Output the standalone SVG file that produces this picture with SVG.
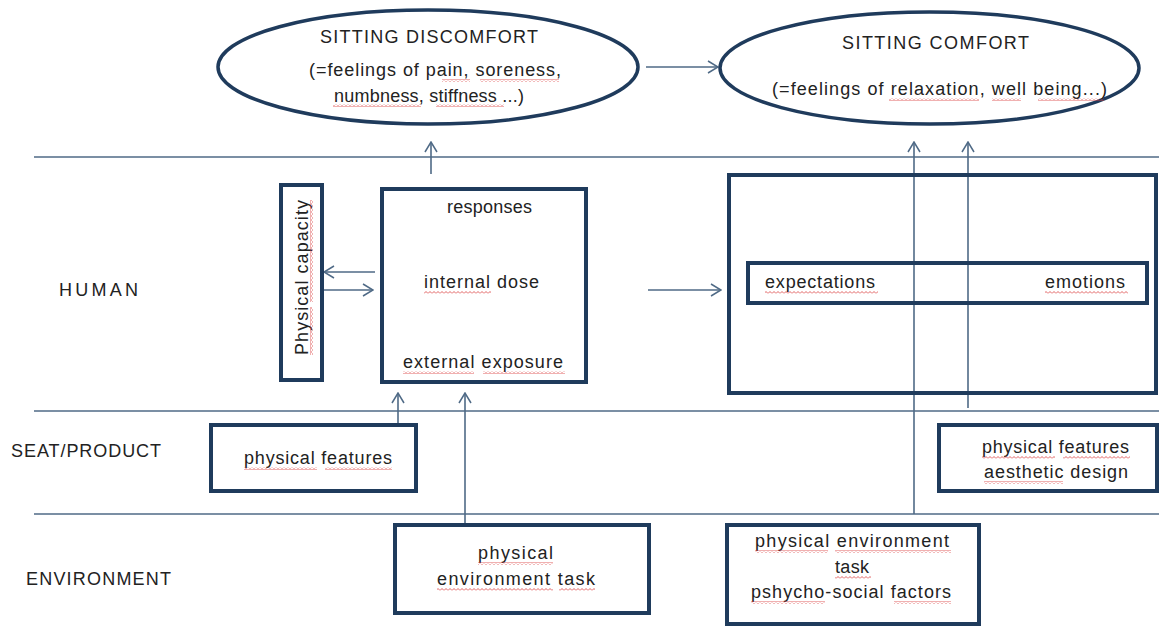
<svg xmlns="http://www.w3.org/2000/svg" width="1159" height="626" viewBox="0 0 1159 626">
<style>
  .t{font-family:"Liberation Sans",Arial,sans-serif;font-size:18px;fill:#222;}
  .box{fill:none;stroke:#1f3b5c;stroke-width:4;}
  .ell{fill:none;stroke:#1f3b5c;stroke-width:3.5;}
  .ln{fill:none;stroke:#4f6a86;stroke-width:1.6;}
  .ar{fill:none;stroke:#4f6a86;stroke-width:1.6;marker-end:url(#arr);}
  .sq{fill:url(#sqh);}
  .sqv{fill:url(#sqv);}
</style>
<defs>
  <marker id="arr" viewBox="0 0 12 14" refX="11" refY="7" markerWidth="12" markerHeight="14" orient="auto" markerUnits="userSpaceOnUse">
    <path d="M1,1 L11,7 L1,13" fill="none" stroke="#4f6a86" stroke-width="1.5"/>
  </marker>
  <pattern id="sqh" width="4" height="3" patternUnits="userSpaceOnUse">
    <path d="M0,2.5 L2,0.5 L4,2.5" fill="none" stroke="#d93a3a" stroke-width="0.8"/>
  </pattern>
  <pattern id="sqv" width="3" height="4" patternUnits="userSpaceOnUse">
    <path d="M2.5,0 L0.5,2 L2.5,4" fill="none" stroke="#d93a3a" stroke-width="0.8"/>
  </pattern>
</defs>
<rect width="1159" height="626" fill="#fff"/>

<g id="connectors">
  <line class="ln" x1="34" y1="157" x2="1159" y2="157"/>
  <line class="ln" x1="34" y1="411" x2="1159" y2="411"/>
  <line class="ln" x1="34" y1="514" x2="1159" y2="514"/>
  <line class="ar" x1="646" y1="67" x2="718" y2="67"/>
  <line class="ar" x1="431" y1="174" x2="431" y2="142"/>
  <line class="ar" x1="375" y1="272" x2="324" y2="272"/>
  <line class="ar" x1="323" y1="290" x2="373" y2="290"/>
  <line class="ar" x1="648" y1="290" x2="721" y2="290"/>
  <line class="ar" x1="914" y1="514" x2="914" y2="142"/>
  <line class="ar" x1="968" y1="408" x2="968" y2="142"/>
  <line class="ar" x1="398" y1="425" x2="398" y2="393"/>
  <line class="ar" x1="465" y1="523" x2="465" y2="393"/>
</g>

<g id="sitting-discomfort">
  <ellipse class="ell" cx="428" cy="67" rx="210" ry="57"/>
  <text class="t" x="320" y="43" textLength="218" lengthAdjust="spacing">SITTING DISCOMFORT</text>
  <text class="t" x="309" y="76" textLength="252" lengthAdjust="spacing">(=feelings of pain, soreness,</text>
  <text class="t" x="334" y="102" textLength="190" lengthAdjust="spacing">numbness, stiffness ...)</text>
  <rect class="sq" x="442" y="79" width="28" height="3"/>
  <rect class="sq" x="480" y="79" width="79" height="3"/>
  <rect class="sq" x="333" y="104" width="88" height="3"/>
  <rect class="sq" x="436" y="104" width="68" height="3"/>
</g>

<g id="sitting-comfort">
  <ellipse class="ell" cx="929.5" cy="68" rx="209.5" ry="56"/>
  <text class="t" x="842" y="49" textLength="187" lengthAdjust="spacing">SITTING COMFORT</text>
  <text class="t" x="772" y="95" textLength="335" lengthAdjust="spacing">(=feelings of relaxation, well being...)</text>
  <rect class="sq" x="889" y="98" width="90" height="3"/>
  <rect class="sq" x="992" y="98" width="29" height="3"/>
  <rect class="sq" x="1038" y="98" width="66" height="3"/>
</g>

<g id="labels">
  <text class="t" x="59" y="296" textLength="79" lengthAdjust="spacing">HUMAN</text>
  <text class="t" x="11" y="457" textLength="150" lengthAdjust="spacing">SEAT/PRODUCT</text>
  <text class="t" x="26" y="585" textLength="145" lengthAdjust="spacing">ENVIRONMENT</text>
</g>

<g id="physical-capacity">
  <rect class="box" x="281" y="185" width="41" height="195"/>
  <text class="t" transform="translate(308,355) rotate(-90)" x="0" y="0" textLength="155" lengthAdjust="spacing">Physical capacity</text>
  <rect class="sqv" x="310" y="307" width="3" height="48"/>
  <rect class="sqv" x="310" y="200" width="3" height="102"/>
</g>

<g id="responses">
  <rect class="box" x="382" y="189" width="204" height="193"/>
  <text class="t" x="447" y="213" textLength="85" lengthAdjust="spacing">responses</text>
  <text class="t" x="424" y="288" textLength="115" lengthAdjust="spacing">internal dose</text>
  <text class="t" x="403" y="368" textLength="160" lengthAdjust="spacing">external exposure</text>
  <rect class="sq" x="424" y="291" width="67" height="3"/>
  <rect class="sq" x="403" y="371" width="71" height="3"/>
  <rect class="sq" x="483" y="371" width="82" height="3"/>
</g>

<g id="psychology">
  <rect class="box" x="729" y="175" width="427" height="218"/>
  <rect class="box" x="748" y="263" width="399" height="40"/>
  <text class="t" x="765" y="288" textLength="110" lengthAdjust="spacing">expectations</text>
  <text class="t" x="1045" y="288" textLength="80" lengthAdjust="spacing">emotions</text>
  <rect class="sq" x="765" y="291" width="113" height="3"/>
  <rect class="sq" x="1045" y="291" width="83" height="3"/>
</g>

<g id="seat-physical">
  <rect class="box" x="211" y="425" width="205" height="66"/>
  <text class="t" x="244" y="464" textLength="148" lengthAdjust="spacing">physical features</text>
  <rect class="sq" x="244" y="467" width="73" height="3"/>
  <rect class="sq" x="325" y="467" width="67" height="3"/>
</g>

<g id="seat-aesthetic">
  <rect class="box" x="939" y="425" width="218" height="66"/>
  <text class="t" x="982" y="453" textLength="147" lengthAdjust="spacing">physical features</text>
  <text class="t" x="984" y="478" textLength="144" lengthAdjust="spacing">aesthetic design</text>
  <rect class="sq" x="982" y="456" width="73" height="3"/>
  <rect class="sq" x="1063" y="456" width="67" height="3"/>
  <rect class="sq" x="984" y="481" width="79" height="3"/>
</g>

<g id="environment-physical">
  <rect class="box" x="395" y="525" width="254" height="88"/>
  <text class="t" x="478" y="559" textLength="75" lengthAdjust="spacing">physical</text>
  <text class="t" x="437" y="585" textLength="158" lengthAdjust="spacing">environment task</text>
  <rect class="sq" x="478" y="562" width="75" height="3"/>
  <rect class="sq" x="437" y="588" width="116" height="3"/>
  <rect class="sq" x="559" y="588" width="36" height="3"/>
</g>

<g id="environment-psychosocial">
  <rect class="box" x="727" y="525" width="252" height="99"/>
  <text class="t" x="755" y="547" textLength="194" lengthAdjust="spacing">physical environment</text>
  <text class="t" x="835" y="573" textLength="34" lengthAdjust="spacing">task</text>
  <text class="t" x="751" y="598" textLength="200" lengthAdjust="spacing">pshycho-social factors</text>
  <rect class="sq" x="755" y="550" width="73" height="3"/>
  <rect class="sq" x="835" y="550" width="116" height="3"/>
  <rect class="sq" x="835" y="576" width="36" height="3"/>
  <rect class="sq" x="751" y="601" width="74" height="3"/>
  <rect class="sq" x="894" y="601" width="57" height="3"/>
</g>
</svg>
